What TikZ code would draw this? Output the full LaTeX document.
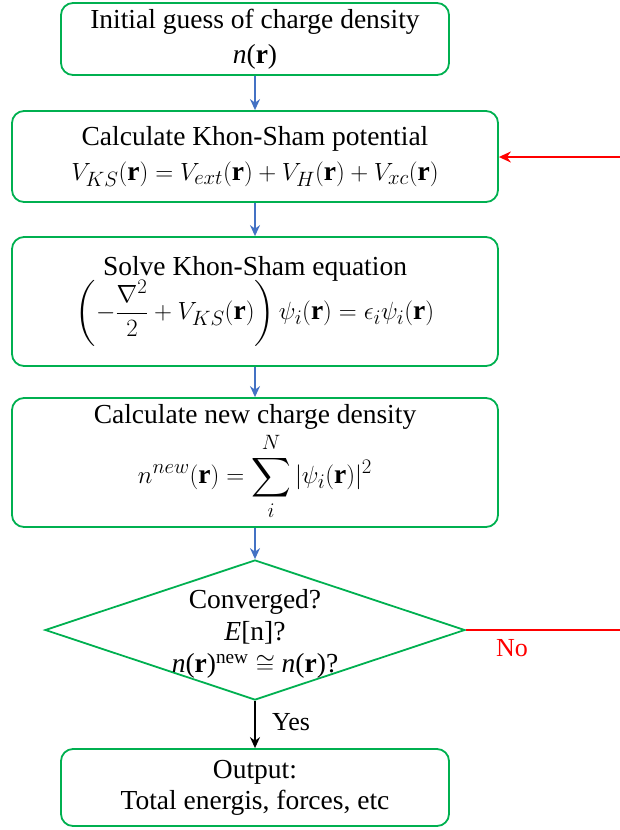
\documentclass[tikz,border=0pt]{standalone}
\usepackage{amsmath,amssymb}
\usepackage{fontspec}
\setmainfont{Liberation Serif}
\usetikzlibrary{shapes.geometric,arrows.meta}
\definecolor{boxgreen}{RGB}{0,176,80}
\definecolor{flowblue}{RGB}{68,114,196}
\definecolor{nored}{RGB}{255,0,0}
\begin{document}
\begin{tikzpicture}[x=1pt,y=-1pt,
  stepbox/.style={draw=boxgreen, line width=1.8pt, rounded corners=12pt, align=center,
    inner sep=0pt, font=\fontsize{27.5}{35}\selectfont},
  decbox/.style={draw=boxgreen, line width=1.8pt, shape=diamond, inner sep=0pt,
    minimum width=420pt, minimum height=140pt},
  txt/.style={align=center, inner sep=0pt, font=\fontsize{27.5}{32}\selectfont},
  lbl/.style={inner sep=0pt, font=\fontsize{26}{30}\selectfont},
  flow/.style={draw=flowblue, line width=1.5pt, -{Stealth[length=11pt,width=10pt]}},
  yesflow/.style={draw=black, line width=1.5pt, -{Stealth[length=11pt,width=10pt]}},
  redflow/.style={draw=nored, line width=1.8pt},
  redarrow/.style={redflow, -{Stealth[length=12pt,width=11pt]}}]
\useasboundingbox (0,0) rectangle (620,830);

\node[stepbox, minimum width=388pt, minimum height=72pt] (b1) at (255,39)
  {Initial guess of charge density\\ \textit{n}(\textbf{r})};
\node[stepbox, minimum width=486pt, minimum height=91pt] (b2) at (255,156.5)
  {Calculate Khon-Sham potential\\ $V_{KS}(\mathbf{r})=V_{ext}(\mathbf{r})+V_{H}(\mathbf{r})+V_{xc}(\mathbf{r})$};
\node[stepbox, minimum width=486pt, minimum height=129pt] (b3) at (255,301.5)
  {Solve Khon-Sham equation\\[-2pt] $\displaystyle\left(-\frac{\nabla^2}{2}+V_{KS}(\mathbf{r})\right)\psi_i(\mathbf{r})=\epsilon_i\psi_i(\mathbf{r})$};
\node[stepbox, minimum width=486pt, minimum height=129pt] (b4) at (255,462.5)
  {Calculate new charge density\\[2pt] $\displaystyle n^{new}(\mathbf{r})=\sum_{i}^{N}|\psi_i(\mathbf{r})|^2$};
\node[decbox] (d) at (255,630) {};
\node[txt] (dt) at (255,634)
  {Converged?\\ \textit{E}[n]?\\ \textit{n}(\textbf{r})\textsuperscript{new} $\cong$ \textit{n}(\textbf{r})?};
\node[stepbox, minimum width=388pt, minimum height=77pt, font=\fontsize{27.5}{31}\selectfont] (b5) at (255,787.5)
  {Output:\\ Total energis, forces, etc};

\draw[flow] (b1) -- (b2);
\draw[flow] (b2) -- (b3);
\draw[flow] (b3) -- (b4);
\draw[flow] (b4) -- (d);
\draw[yesflow] (d.south) -- (b5.north);
\node[lbl, anchor=west] (yes) at (272,722) {Yes};

\coordinate (rin) at (620,157);
\coordinate (rout) at (620,630);
\draw[redarrow] (rin) -- (b2.east |- rin);
\draw[redflow] (d.east) -- (rout);
\node[lbl, anchor=west, text=nored] (no) at (496,648) {No};
\end{tikzpicture}
\end{document}
